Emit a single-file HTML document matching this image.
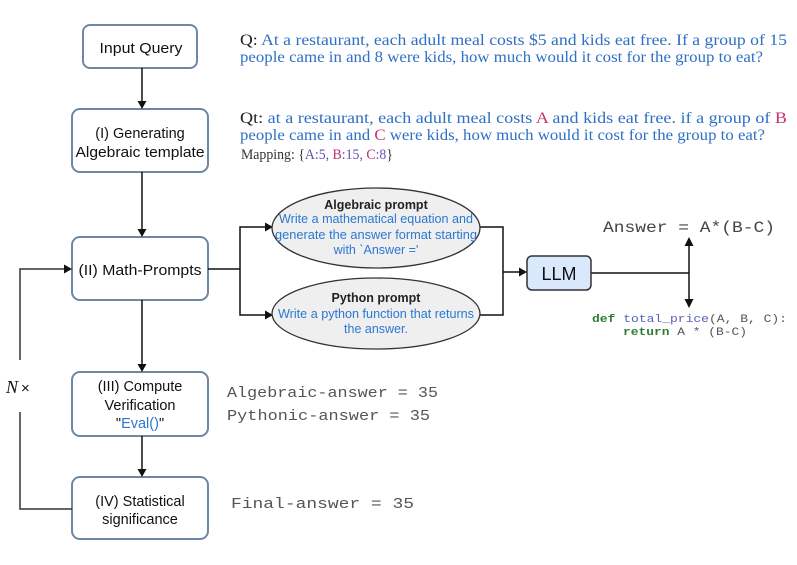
<!DOCTYPE html>
<html><head><meta charset="utf-8"><style>
html,body{margin:0;padding:0;background:#fff;}
svg{display:block;}
</style></head><body>
<svg width="797" height="565" viewBox="0 0 797 565" xmlns="http://www.w3.org/2000/svg">
<rect width="797" height="565" fill="#fff"/>
<!-- boxes -->
<g fill="#fff" stroke="#6f87a3" stroke-width="2">
<rect x="83" y="25" width="114" height="43" rx="7"/>
<rect x="72" y="109" width="136" height="63" rx="8"/>
<rect x="72" y="237" width="136" height="63" rx="8"/>
<rect x="72" y="372" width="136" height="64" rx="8"/>
<rect x="72" y="477" width="136" height="62" rx="8"/>
</g>
<g font-family="Liberation Sans, Arial, sans-serif" font-size="14.5" fill="#111" text-anchor="middle">
<text x="141" y="53" textLength="83" lengthAdjust="spacingAndGlyphs">Input Query</text>
<text x="140" y="138">(I) Generating</text>
<text x="140" y="157" textLength="129" lengthAdjust="spacingAndGlyphs">Algebraic template</text>
<text x="140" y="275" textLength="123" lengthAdjust="spacingAndGlyphs">(II) Math-Prompts</text>
<text x="140" y="391">(III) Compute</text>
<text x="140" y="410">Verification</text>
<text x="140" y="428">"<tspan fill="#2b78d0">Eval()</tspan>"</text>
<text x="140" y="506">(IV) Statistical</text>
<text x="140" y="524">significance</text>
</g>
<!-- vertical arrows -->
<g stroke="#111" stroke-width="1.5">
<line x1="142" y1="68" x2="142" y2="102"/>
<line x1="142" y1="172" x2="142" y2="230"/>
<line x1="142" y1="300" x2="142" y2="365"/>
<line x1="142" y1="436" x2="142" y2="470"/>
</g>
<g fill="#111">
<polygon points="137.5,101 146.5,101 142,109"/>
<polygon points="137.5,229 146.5,229 142,237"/>
<polygon points="137.5,364 146.5,364 142,372"/>
<polygon points="137.5,469 146.5,469 142,477"/>
</g>
<!-- feedback loop -->
<g stroke="#333" stroke-width="1.5" fill="none">
<polyline points="20,360 20,269 65,269"/>
<polyline points="20,412 20,509 72,509"/>
</g>
<polygon points="64,264.5 72,269 64,273.5" fill="#111"/>
<text x="6" y="393" font-family="Liberation Serif, serif" font-size="18" font-style="italic" fill="#111">N</text>
<text x="21" y="393" font-family="Liberation Sans, sans-serif" font-size="15" fill="#111">×</text>
<!-- branch to ellipses -->
<g stroke="#111" stroke-width="1.5" fill="none">
<line x1="208" y1="269" x2="240" y2="269"/>
<polyline points="266,227 240,227 240,315 266,315"/>
<polyline points="480,227 503,227 503,315 480,315"/>
<line x1="503" y1="272" x2="520" y2="272"/>
<line x1="591" y1="273" x2="689" y2="273"/>
<line x1="689" y1="245" x2="689" y2="300"/>
</g>
<g fill="#111">
<polygon points="265,222.5 273,227 265,231.5"/>
<polygon points="265,310.5 273,315 265,319.5"/>
<polygon points="519,267.5 527,272 519,276.5"/>
<polygon points="684.5,246 693.5,246 689,237"/>
<polygon points="684.5,299 693.5,299 689,308"/>
</g>
<!-- ellipses -->
<ellipse cx="376" cy="228" rx="104" ry="40" fill="#efefef" stroke="#333" stroke-width="1.3"/>
<ellipse cx="376" cy="313.5" rx="104" ry="35.5" fill="#efefef" stroke="#333" stroke-width="1.3"/>
<g font-family="Liberation Sans, Arial, sans-serif" font-size="12.5" text-anchor="middle">
<text x="376" y="209" font-weight="bold" fill="#222">Algebraic prompt</text>
<text x="376" y="223" fill="#2b78d0" textLength="194" lengthAdjust="spacingAndGlyphs">Write a mathematical equation and</text>
<text x="376" y="239" fill="#2b78d0" textLength="202" lengthAdjust="spacingAndGlyphs">generate the answer format starting</text>
<text x="376" y="254" fill="#2b78d0">with `Answer ='</text>
<text x="376" y="302" font-weight="bold" fill="#222">Python prompt</text>
<text x="376" y="318" fill="#2b78d0" textLength="196" lengthAdjust="spacingAndGlyphs">Write a python function that returns</text>
<text x="376" y="333" fill="#2b78d0">the answer.</text>
</g>
<!-- LLM -->
<rect x="527" y="256" width="64" height="34" rx="5" fill="#dae8fc" stroke="#333" stroke-width="1.5"/>
<text x="559" y="280" font-family="Liberation Sans, Arial, sans-serif" font-size="18" text-anchor="middle" fill="#111">LLM</text>
<!-- answer -->
<text x="603" y="232" font-family="Liberation Mono, monospace" font-size="16" fill="#444" textLength="172" lengthAdjust="spacingAndGlyphs">Answer = A*(B-C)</text>
<g font-family="Liberation Mono, monospace" font-size="11" fill="#555">
<text x="592" y="322" textLength="195" lengthAdjust="spacingAndGlyphs"><tspan font-weight="bold" fill="#2e7d32">def</tspan> <tspan fill="#5a5fb8">total_price</tspan>(A, B, C):</text>
<text x="623" y="335" textLength="124" lengthAdjust="spacingAndGlyphs"><tspan font-weight="bold" fill="#2e7d32">return</tspan> A * (B-C)</text>
</g>
<!-- question texts -->
<g font-family="Liberation Serif, 'Times New Roman', serif" font-size="16" fill="#2f6fc4">
<text x="240" y="45" textLength="547" lengthAdjust="spacingAndGlyphs"><tspan fill="#222">Q:</tspan> At a restaurant, each adult meal costs $5 and kids eat free.  If a group of 15</text>
<text x="240" y="62" textLength="523" lengthAdjust="spacingAndGlyphs">people came in and 8 were kids, how much would it cost for the group to eat?</text>
<text x="240" y="123" textLength="547" lengthAdjust="spacingAndGlyphs"><tspan fill="#222">Qt:</tspan>  at a restaurant, each adult meal costs <tspan fill="#c73270">A</tspan> and kids eat free.  if a group of <tspan fill="#c73270">B</tspan></text>
<text x="240" y="140" textLength="525" lengthAdjust="spacingAndGlyphs">people came in and <tspan fill="#c73270">C</tspan> were kids, how much would it cost for the group to eat?</text>
<text x="241" y="159" font-size="14.5" textLength="152" lengthAdjust="spacingAndGlyphs"><tspan fill="#333">Mapping: {</tspan><tspan fill="#6a4fb0">A:5,</tspan> <tspan fill="#b8307a">B</tspan><tspan fill="#6a4fb0">:15,</tspan> <tspan fill="#b8307a">C</tspan><tspan fill="#6a4fb0">:8</tspan><tspan fill="#333">}</tspan></text>
</g>
<!-- results -->
<g font-family="Liberation Mono, monospace" font-size="15" fill="#555">
<text x="227" y="397" textLength="211" lengthAdjust="spacingAndGlyphs">Algebraic-answer = 35</text>
<text x="227" y="420" textLength="203" lengthAdjust="spacingAndGlyphs">Pythonic-answer = 35</text>
<text x="231" y="508" textLength="183" lengthAdjust="spacingAndGlyphs">Final-answer = 35</text>
</g>
</svg>
</body></html>
